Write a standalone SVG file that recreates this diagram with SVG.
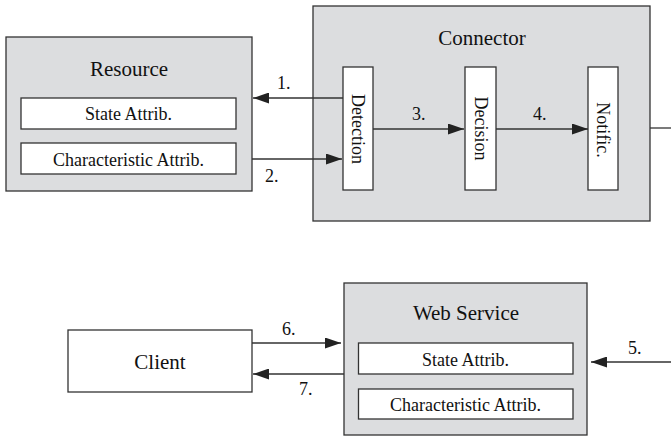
<svg xmlns="http://www.w3.org/2000/svg" width="671" height="437" viewBox="0 0 671 437">
  <style>
    .frame { fill: #dcdddf; stroke: #333333; stroke-width: 1.3; }
    .box { fill: #ffffff; stroke: #333333; stroke-width: 1.3; }
    .title { font-family: "Liberation Serif", "Times New Roman", serif; font-size: 21px; fill: #111111; text-anchor: middle; }
    .txt { font-family: "Liberation Serif", "Times New Roman", serif; font-size: 18px; fill: #111111; text-anchor: middle; }
    .lbl { font-family: "Liberation Serif", "Times New Roman", serif; font-size: 18px; fill: #111111; }
    .edge { fill: none; stroke: #333333; stroke-width: 1.3; }
  </style>
  <defs>
    <marker id="arrow" markerUnits="userSpaceOnUse" markerWidth="16" markerHeight="11" refX="16" refY="5.5" orient="auto">
      <path d="M0,0 L16,5.5 L0,11 Z" fill="#222222"/>
    </marker>
  </defs>

  <g id="resource">
    <rect class="frame" x="6" y="37" width="246" height="154"/>
    <text class="title" x="129" y="76">Resource</text>
    <rect class="box" x="21" y="98" width="215" height="31"/>
    <text class="txt" x="128.5" y="120">State Attrib.</text>
    <rect class="box" x="21" y="143" width="215" height="31"/>
    <text class="txt" x="128.5" y="166">Characteristic Attrib.</text>
  </g>

  <g id="connector">
    <rect class="frame" x="313" y="6" width="337" height="215"/>
    <text class="title" x="482" y="45">Connector</text>
  </g>

  <g id="detection">
    <rect class="box" x="343" y="67" width="30" height="123"/>
    <text class="txt" transform="translate(358,129) rotate(90)" x="0" y="6">Detection</text>
  </g>

  <g id="decision">
    <rect class="box" x="465" y="67" width="31" height="123"/>
    <text class="txt" transform="translate(480.5,128.5) rotate(90)" x="0" y="6">Decision</text>
  </g>

  <g id="notific">
    <rect class="box" x="588" y="67" width="30" height="123"/>
    <text class="txt" transform="translate(603,130) rotate(90)" x="0" y="6">Notific.</text>
  </g>

  <g id="web-service">
    <rect class="frame" x="344" y="283" width="243" height="152"/>
    <text class="title" x="466" y="320">Web Service</text>
    <rect class="box" x="358.5" y="343" width="214.5" height="31"/>
    <text class="txt" x="465.5" y="365.5">State Attrib.</text>
    <rect class="box" x="358.5" y="389" width="214.5" height="30"/>
    <text class="txt" x="465.5" y="411">Characteristic Attrib.</text>
  </g>

  <g id="client">
    <rect class="box" x="68" y="330" width="184" height="62"/>
    <text class="title" x="160" y="369">Client</text>
  </g>

  <g id="connectors">
    <path class="edge" d="M343,98 L253,98" marker-end="url(#arrow)"/>
    <text class="lbl" x="277" y="89">1.</text>
    <path class="edge" d="M252,159 L342,159" marker-end="url(#arrow)"/>
    <text class="lbl" x="265" y="182">2.</text>
    <path class="edge" d="M373,129 L464,129" marker-end="url(#arrow)"/>
    <text class="lbl" x="412" y="120">3.</text>
    <path class="edge" d="M496,129 L588,129" marker-end="url(#arrow)"/>
    <text class="lbl" x="533" y="120">4.</text>
    <path class="edge" d="M650,128 L671,128"/>
    <path class="edge" d="M671,362 L591,362" marker-end="url(#arrow)"/>
    <text class="lbl" x="628" y="354">5.</text>
    <path class="edge" d="M252,343 L341,343" marker-end="url(#arrow)"/>
    <text class="lbl" x="282" y="335">6.</text>
    <path class="edge" d="M344,374 L253,374" marker-end="url(#arrow)"/>
    <text class="lbl" x="299" y="395">7.</text>
  </g>
</svg>
